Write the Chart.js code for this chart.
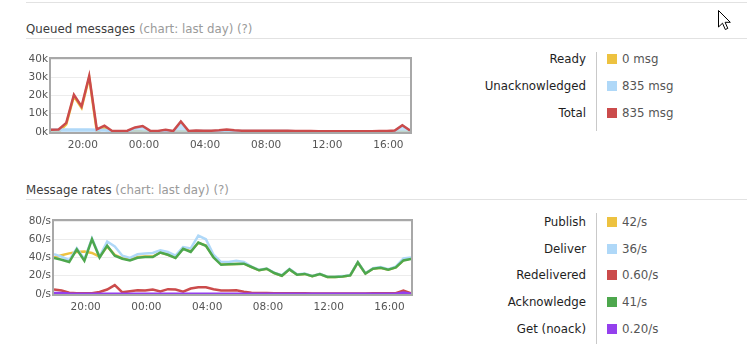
<!DOCTYPE html>
<html>
<head>
<meta charset="utf-8">
<script src="https://cdn.jsdelivr.net/npm/chart.js@4.4.1/dist/chart.umd.min.js"></script>
<style>
  body { margin: 0; background: #fff; font-family: "DejaVu Sans", Verdana, sans-serif; width: 747px; height: 350px; overflow: hidden; position: relative; }
  .rule { position: absolute; left: 26px; width: 721px; height: 0; border-top: 1px solid #e2e2e2; }
  .head { position: absolute; left: 26px; font-size: 11.8px; line-height: 14px; color: #3c3c3c; white-space: nowrap; }
  .head span { color: #9a9a9a; }
  canvas { position: absolute; left: 0; }
  .vline { position: absolute; left: 596px; width: 1px; background: #c9c9c9; }
  .lbl { position: absolute; right: 161px; font-size: 11.8px; line-height: 14px; color: #1e1e1e; white-space: nowrap; text-align: right; }
  .sq { position: absolute; left: 607px; width: 10px; height: 10px; }
  .val { position: absolute; left: 622px; font-size: 11.8px; line-height: 14px; color: #555; white-space: nowrap; }
  #cursor { position: absolute; left: 717px; top: 9px; }
</style>
</head>
<body>
<div class="rule" style="top:2px"></div>
<div class="head" style="top:22px">Queued messages <span>(chart: last day) (?)</span></div>
<div class="rule" style="top:38px"></div>
<div class="head" style="top:183px">Message rates <span>(chart: last day) (?)</span></div>
<div class="rule" style="top:199px"></div>

<canvas id="queued" width="420" height="114" style="top:45px"></canvas>
<canvas id="rates" width="420" height="114" style="top:207px"></canvas>

<div class="vline" style="top:52px;height:79px"></div>
<div class="vline" style="top:213px;height:131px"></div>
<div id="legends"></div>

<svg id="cursor" width="16" height="24" viewBox="0 0 16 24">
  <path d="M1.5 1.5 L1.5 18 L5.5 14.2 L8.3 20.5 L10.8 19.4 L8.1 13.3 L13.3 13.3 Z" fill="#fff" stroke="#000" stroke-width="1"/>
</svg>

<script>
// samples every 30 min over the last day, hours counted from midnight of day one
const firstSample = 17 + 55 / 60;
const sampleStep = 0.5;

const tickHours = [20, 24, 28, 32, 36, 40];
const tickLabels = ['20:00', '00:00', '04:00', '08:00', '12:00', '16:00'];

// queued messages
const queueNames = ['Ready', 'Unacknowledged', 'Total'];
const queueColors = ['#edc240', '#afd8f8', '#cb4b4b'];
const queueNow = ['0 msg', '835 msg', '835 msg'];
const queueTicks = [0, 10000, 20000, 30000, 40000];

const ready = [0, 0, 4200, 19600, 13200, 29900, 100, 2300, 300, 300, 400, 500, 300, 200, 300, 400,
  200, 300, 200, 300, 200, 200, 300, 500, 300, 200, 200, 200, 200, 200, 200, 200,
  200, 200, 200, 100, 100, 100, 100, 100, 100, 100, 100, 100, 100, 200, 200, 0];
const unacked = [1300, 1400, 1400, 1400, 1400, 1400, 1300, 1200, 300, 200, 300, 2000, 3000, 400, 300, 800,
  300, 5500, 400, 500, 500, 500, 600, 900, 600, 500, 500, 500, 500, 500, 500, 500,
  400, 400, 400, 300, 300, 300, 300, 300, 300, 300, 300, 400, 400, 600, 3500, 835];
const total = [1300, 1400, 5000, 20400, 14000, 30700, 1400, 3500, 600, 500, 700, 2500, 3300, 600, 600, 1200,
  500, 5800, 600, 800, 700, 700, 900, 1400, 900, 700, 700, 700, 700, 700, 700, 700,
  600, 600, 600, 400, 400, 400, 400, 400, 400, 400, 400, 500, 500, 800, 3700, 835];

// message rates
const rateNames = ['Publish', 'Deliver', 'Redelivered', 'Acknowledge', 'Get (noack)'];
const rateColors = ['#edc240', '#afd8f8', '#cb4b4b', '#4da74d', '#9440ed'];
const rateNow = ['42/s', '36/s', '0.60/s', '41/s', '0.20/s'];
const rateTicks = [0, 20, 40, 60, 80];

const publish = [40, 42.5, 44.5, 46, 46.5, 45, 41, 52, 43, 39, 37.5, 40.5, 41, 41, 45.5, 43,
  40, 50.5, 47, 56, 53, 41, 33, 32.5, 33, 33.2, 29.6, 26, 27.7, 23, 20, 27,
  21.2, 22, 19.4, 21.8, 18.7, 18.7, 19.3, 20.4, 34.6, 22.3, 27.7, 28.8, 26.6, 29.2, 37, 39];
const deliver = [43.7, 41, 37, 50, 38, 61, 41, 57.5, 52, 42, 39.5, 43.5, 44.5, 45, 48, 46,
  42, 51.5, 50, 64, 60, 43, 35, 35, 36.5, 35, 30, 26.5, 28, 23.5, 20.5, 27.5,
  21.5, 22.5, 19.8, 22, 19, 19, 19.6, 20.8, 35, 22.7, 28.3, 29.5, 27.3, 30, 39, 40];
const redelivered = [4.9, 3.8, 1.3, 0.9, 0.9, 0.9, 2.2, 4.9, 9.8, 1.8, 2.9, 4.0, 3.8, 4.9, 2.9, 5.3,
  4.9, 2.5, 6.0, 7.4, 7.4, 5.3, 3.8, 3.8, 4.0, 2.5, 1.5, 1.2, 1.0, 0.9, 0.8, 0.8,
  0.7, 0.7, 0.6, 0.6, 0.6, 0.6, 0.6, 0.6, 0.6, 0.6, 0.7, 0.8, 0.7, 0.8, 3.8, 0.6];
const acknowledge = [39.4, 37.5, 35, 49, 36.5, 60, 40, 53, 42, 38.6, 36.8, 39.7, 40.5, 40.5, 45.5, 43,
  39.4, 49.5, 46, 56.4, 52.8, 40, 32, 32.5, 33, 33.2, 29.6, 26, 27.7, 23, 20, 27,
  21.2, 22, 19.4, 21.8, 18.7, 18.7, 19.3, 20.4, 34.6, 22.3, 27.7, 28.8, 26.6, 29.2, 36.8, 38.3];
const getNoack = [1.2, 1.0, 0.5, 0.3, 0.3, 0.3, 0.3, 0.3, 0.3, 0.3, 0.3, 0.3, 0.3, 0.3, 0.3, 0.3,
  0.3, 0.3, 0.3, 0.3, 0.3, 0.3, 0.3, 0.3, 0.3, 0.3, 0.3, 0.3, 0.3, 0.3, 0.3, 0.3,
  0.3, 0.3, 0.3, 0.3, 0.3, 0.3, 0.3, 0.3, 0.3, 0.3, 0.3, 0.3, 0.3, 0.3, 1.5, 0.2];

const tickFont = { family: '"DejaVu Sans", Verdana, sans-serif', size: 10.5 };

// flot style frame, drawn under the lines
const framePlugin = {
  id: 'frame',
  beforeDatasetsDraw(chart) {
    const a = chart.chartArea, ctx = chart.ctx;
    ctx.save();
    ctx.strokeStyle = '#a8a8a8';
    ctx.lineWidth = 2;
    ctx.strokeRect(a.left - 1, a.top - 1, a.right - a.left + 2, a.bottom - a.top + 2);
    ctx.restore();
  }
};

function series(values) {
  return values.map((v, i) => ({ x: firstSample + i * sampleStep, y: v }));
}

function drawChart(id, datasets, yTicks, yFormat, yWidth, padRight) {
  new Chart(document.getElementById(id), {
    type: 'line',
    data: { datasets: datasets },
    plugins: [framePlugin],
    options: {
      responsive: false,
      animation: false,
      layout: { padding: { top: 14, right: padRight, left: 0, bottom: 0 } },
      plugins: { legend: { display: false }, tooltip: { enabled: false } },
      elements: { point: { radius: 0 }, line: { borderWidth: 2.5, tension: 0 } },
      scales: {
        x: {
          type: 'linear',
          min: firstSample,
          max: firstSample + 47 * sampleStep,
          afterBuildTicks: s => { s.ticks = tickHours.map(v => ({ value: v })); },
          afterFit: s => { s.height = 27; },
          grid: { display: false, drawTicks: false },
          border: { display: false },
          ticks: { callback: (v, i) => tickLabels[i], autoSkip: false, maxRotation: 0, padding: 7, color: '#555', font: tickFont }
        },
        y: {
          min: yTicks[0],
          max: yTicks[yTicks.length - 1],
          afterBuildTicks: s => { s.ticks = yTicks.map(v => ({ value: v })); },
          afterFit: s => { s.width = yWidth; },
          grid: { color: '#ececec', drawTicks: false },
          border: { display: false },
          ticks: { callback: yFormat, padding: 3, color: '#555', font: tickFont }
        }
      }
    }
  });
}

const queueData = [ready, unacked, total];
drawChart('queued', queueData.map((d, i) => ({
  data: series(d),
  borderColor: queueColors[i],
  backgroundColor: 'rgba(175,216,248,0.75)',
  fill: i === 1 ? 'origin' : false,
  order: queueData.length - i
})), queueTicks, v => (v / 1000) + 'k', 51, 10);

const rateData = [publish, deliver, redelivered, acknowledge, getNoack];
drawChart('rates', rateData.map((d, i) => ({
  data: series(d),
  borderColor: rateColors[i],
  fill: false,
  order: rateData.length - i
})), rateTicks, v => v + '/s', 54, 9);

// legend tables on the right
function legend(names, colors, values, firstRow) {
  const box = document.getElementById('legends');
  names.forEach((n, i) => {
    const c = firstRow + i * 26.7;
    box.insertAdjacentHTML('beforeend',
      '<div class="lbl" style="top:' + (c - 7) + 'px">' + n + '</div>' +
      '<div class="sq" style="top:' + (c - 5) + 'px;background:' + colors[i] + '"></div>' +
      '<div class="val" style="top:' + (c - 7) + 'px">' + values[i] + '</div>');
  });
}
legend(queueNames, queueColors, queueNow, 59.2);
legend(rateNames, rateColors, rateNow, 221.8);
</script>
</body>
</html>
